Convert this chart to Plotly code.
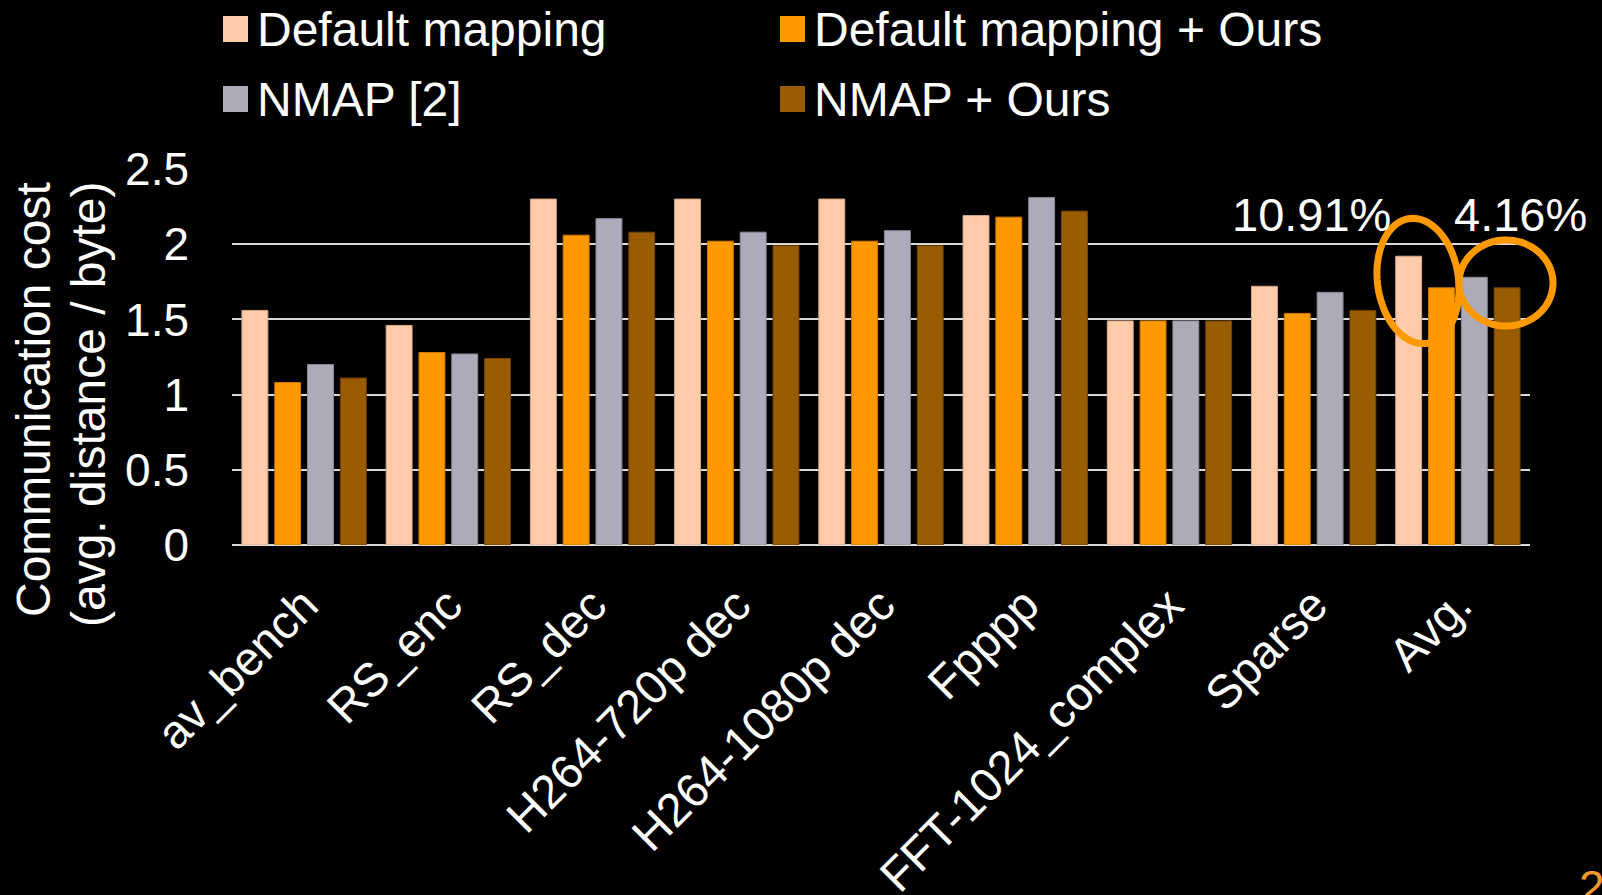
import numpy as np
import plotly.graph_objects as go

# ---------------- data ----------------
categories = ["av_bench", "RS_enc", "RS_dec", "H264-720p dec", "H264-1080p dec",
              "Fpppp", "FFT-1024_complex", "Sparse", "Avg."]
series_names = ["Default mapping", "Default mapping + Ours", "NMAP [2]", "NMAP + Ours"]
default_mapping = [1.56, 1.46, 2.30, 2.30, 2.30, 2.19, 1.49, 1.72, 1.92]
default_mapping_ours = [1.08, 1.28, 2.06, 2.02, 2.02, 2.18, 1.49, 1.54, 1.71]
nmap = [1.20, 1.27, 2.17, 2.08, 2.09, 2.31, 1.49, 1.68, 1.78]
nmap_ours = [1.11, 1.24, 2.08, 1.99, 1.99, 2.22, 1.49, 1.56, 1.71]
y_tick_values = [0, 0.5, 1, 1.5, 2, 2.5]
y_tick_labels = ["0", "0.5", "1", "1.5", "2", "2.5"]
improvement_labels = ["10.91%", "4.16%"]
y_title_lines = ["Communication cost", "(avg. distance / byte)"]
page_number = "2"

# ---------------- style ----------------
FONT = "Liberation Sans, Arial, sans-serif"
fills = ["#FFCBA9", "#FF9900", "#ABABBA", "#995C00"]
edges = ["#D8A888", "#CC7A00", "#8A8A98", "#6E4200"]
ORANGE = "#FF9900"

W, H = 1602, 895
PL, PR, PT, PB = 232, 1530, 169, 545


def fx(px):
    return (px - PL) / (PR - PL)


def fy(py):
    return (PB - py) / (PB - PT)


fig = go.Figure()
for name, vals, fc, lc in zip(series_names,
                              [default_mapping, default_mapping_ours, nmap, nmap_ours],
                              fills, edges):
    fig.add_trace(go.Bar(x=categories, y=vals, name=name, showlegend=False,
                         marker=dict(color=fc, line=dict(color=lc, width=1))))

shapes = []
annotations = []

# manual legend (large square swatches)
legend_pos = [(223, 29), (780, 29), (223, 99), (780, 99)]
for (sx, sy), name, fc in zip(legend_pos, series_names, fills):
    shapes.append(dict(type="rect", xref="paper", yref="paper",
                       x0=fx(sx), x1=fx(sx + 25), y0=fy(sy + 13), y1=fy(sy - 13),
                       fillcolor=fc, line=dict(width=0)))
    annotations.append(dict(text=name, xref="paper", yref="paper",
                            x=fx(sx + 32), y=fy(sy), xanchor="left", yanchor="middle",
                            showarrow=False, font=dict(size=48, color="white", family=FONT)))

# y-axis title lines
for txt, cx, cy in zip(y_title_lines, [33, 88], [400, 404]):
    annotations.append(dict(text=txt, xref="paper", yref="paper", x=fx(cx), y=fy(cy),
                            xanchor="center", yanchor="middle", textangle=-90,
                            showarrow=False, font=dict(size=48, color="white", family=FONT)))

# percentage labels
for txt, cx in zip(improvement_labels, [1311, 1520]):
    annotations.append(dict(text=txt, xref="paper", yref="paper", x=fx(cx), y=fy(214),
                            xanchor="center", yanchor="middle", showarrow=False,
                            font=dict(size=47, color="white", family=FONT)))

# page number
annotations.append(dict(text=page_number, xref="paper", yref="paper", x=fx(1577), y=fy(887),
                        xanchor="left", yanchor="middle", showarrow=False,
                        font=dict(size=46, color="#F39A2B", family=FONT)))


# highlight ellipses
def ellipse_path(cx, cy, a, b, deg):
    t = np.linspace(0, 2 * np.pi, 90)
    th = np.deg2rad(deg)
    x = a * np.cos(t)
    y = b * np.sin(t)
    xr = cx + x * np.cos(th) - y * np.sin(th)
    yr = cy + x * np.sin(th) + y * np.cos(th)
    pts = [f"{fx(px):.5f},{fy(py):.5f}" for px, py in zip(xr, yr)]
    return "M" + " L".join(pts) + " Z"


for (cx, cy, a, b, deg) in [(1418, 281, 40.5, 63, -8), (1506, 283, 47, 43, 0)]:
    shapes.append(dict(type="path", xref="paper", yref="paper",
                       path=ellipse_path(cx, cy, a, b, deg),
                       line=dict(color=ORANGE, width=7), fillcolor="rgba(0,0,0,0)"))

fig.update_layout(
    width=W, height=H,
    margin=dict(l=PL, r=W - PR, t=PT, b=H - PB, pad=0, autoexpand=False),
    paper_bgcolor="black", plot_bgcolor="black",
    font=dict(family=FONT, color="white"),
    barmode="group", bargap=0.09, bargroupgap=0.21,
    showlegend=False,
    shapes=shapes, annotations=annotations,
    xaxis=dict(type="category", tickangle=-45, showgrid=False, showline=False,
               ticks="", ticklabelstandoff=22, automargin=False,
               tickfont=dict(size=47, color="white", family=FONT)),
    yaxis=dict(range=[0, 2.5], tickvals=y_tick_values, ticktext=y_tick_labels,
               showgrid=True, gridcolor="#D9D9D9", gridwidth=2,
               zeroline=True, zerolinecolor="#D9D9D9", zerolinewidth=2,
               showline=False, ticks="", ticklabelstandoff=42, automargin=False,
               tickfont=dict(size=46, color="white", family=FONT)),
)

fig.write_html("out.html")
